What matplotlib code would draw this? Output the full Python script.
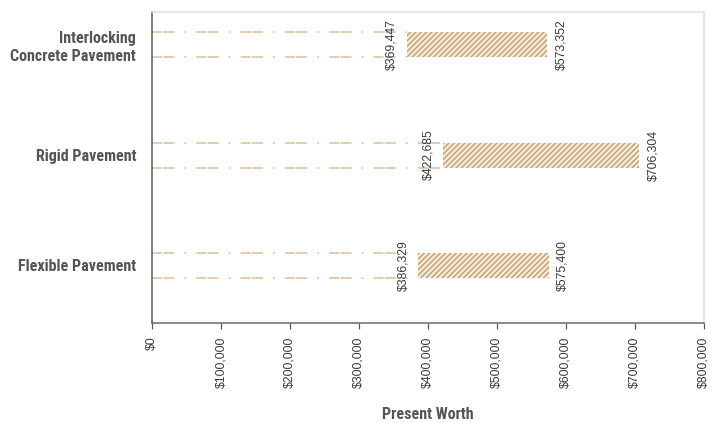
import matplotlib
matplotlib.use("Agg")
import matplotlib.pyplot as plt
from matplotlib.ticker import FuncFormatter

# values
categories = ["Interlocking\nConcrete Pavement", "Rigid Pavement", "Flexible Pavement"]
low_worth = [369447, 422685, 386329]
high_worth = [573352, 706304, 575400]
x_ticks = [0, 100000, 200000, 300000, 400000, 500000, 600000, 700000, 800000]

DPI = 80


def px(p):
    # pixel size -> points at this dpi
    return p * 72.0 / DPI


matplotlib.rcParams['lines.scale_dashes'] = False
matplotlib.rcParams['hatch.linewidth'] = px(1.5)
matplotlib.rcParams['hatch.color'] = '#c4a06c'

label_font = dict(family=['Liberation Sans Narrow', 'Roboto Condensed', 'Liberation Sans', 'DejaVu Sans'],
                  weight='bold', color='#555555', size=px(16))
num_font = dict(family=['Liberation Sans', 'DejaVu Sans'], color='#3a3a3a', size=px(12.2))

fig = plt.figure(figsize=(713 / DPI, 423 / DPI), dpi=DPI)
ax = fig.add_axes([152 / 713, 1 - 322.7 / 423, (703.5 - 152) / 713, (322.7 - 12) / 423])

bar_h = 25 / 110.45
dash = (0, (px(10), px(1.3), px(11), px(10), px(2), px(10)))

for i, (lo, hi) in enumerate(zip(low_worth, high_worth)):
    for edge in (i - bar_h / 2, i + bar_h / 2):
        ax.plot([0, lo], [edge, edge], color='#dcc6a0', lw=px(1.7), linestyle=dash)
    ax.barh(i, hi - lo, left=lo, height=bar_h, color='#f5ede1', edgecolor='#c4a06c',
            linewidth=0, hatch='/////')
    ax.annotate(f"${lo:,}", (lo, i), xytext=(-px(9), 0), textcoords='offset points',
                rotation=90, ha='right', va='center', **num_font)
    ax.annotate(f"${hi:,}", (hi, i), xytext=(px(8), 0), textcoords='offset points',
                rotation=90, ha='left', va='center', **num_font)

ax.set_xlim(0, 800000)
ax.set_ylim(2 + (322.7 - 265.5) / 110.45, -(44.55 - 12) / 110.45)
ax.set_xticks(x_ticks)
ax.xaxis.set_major_formatter(FuncFormatter(lambda v, pos: f"${v:,.0f}"))
for lab in ax.get_xticklabels():
    lab.set_rotation(90)
    lab.set_fontfamily(num_font['family'])
    lab.set_fontsize(num_font['size'])
    lab.set_color(num_font['color'])
ax.tick_params(axis='x', length=px(5.5), width=px(1.2), color='#555555', pad=px(8.5))

ax.set_yticks(range(len(categories)))
ax.set_yticklabels(categories, linespacing=1.25, **label_font)
ax.tick_params(axis='y', length=0, pad=px(16))

ax.set_xlabel("Present Worth", labelpad=px(19), **label_font)

ax.spines['left'].set_color('#555555')
ax.spines['left'].set_linewidth(px(1.5))
ax.spines['bottom'].set_color('#666666')
ax.spines['bottom'].set_linewidth(px(1.5))
for s in ('top', 'right'):
    ax.spines[s].set_color('#dddddd')
    ax.spines[s].set_linewidth(px(1.5))

fig.savefig("out.png", dpi=DPI)
